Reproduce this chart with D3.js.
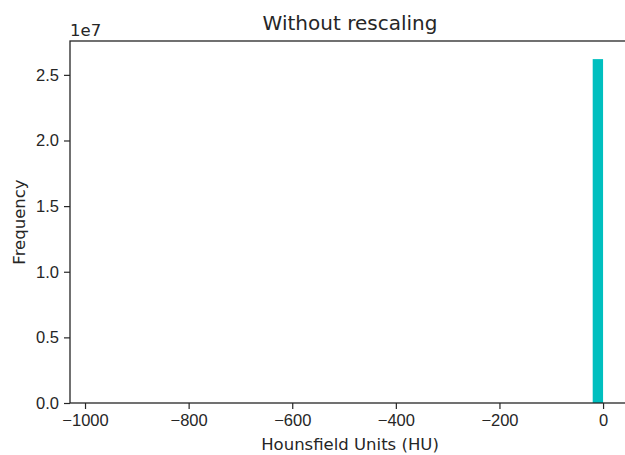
<!DOCTYPE html>
<html>
<head>
<meta charset="utf-8">
<script src="https://cdn.jsdelivr.net/npm/d3@7"></script>
<style>
  body { margin: 0; background: #fff; }
  svg { display: block; font-family: "DejaVu Sans", sans-serif; }
</style>
</head>
<body>
<svg width="625" height="455"></svg>
<script>
// histogram bins (HU) and counts
var binStart = [-20];
var binEnd = [0];
var counts = [26200000];
var xTicks = [-1000, -800, -600, -400, -200, 0];
var yTicks = [0, 0.5e7, 1e7, 1.5e7, 2e7, 2.5e7];

var margin = { top: 41, right: -5, bottom: 52, left: 70 };
var svgWidth = 625, svgHeight = 455;
var width = svgWidth - margin.left - margin.right;
var height = svgHeight - margin.top - margin.bottom;
var ink = "#262626";
var fs = "16.5px";

var svg = d3.select("svg");
var g = svg.append("g")
  .attr("transform", "translate(" + margin.left + "," + margin.top + ")");

var x = d3.scaleLinear().domain([-1029, 52]).range([0, width]);
var y = d3.scaleLinear().domain([0, 2.758e7]).range([height, 0]);

// bars
g.selectAll("rect.bar")
  .data(counts)
  .enter().append("rect")
  .attr("class", "bar")
  .attr("x", function(d, i) { return x(binStart[i]); })
  .attr("width", function(d, i) { return x(binEnd[i]) - x(binStart[i]); })
  .attr("y", function(d) { return y(d); })
  .attr("height", function(d) { return height - y(d); })
  .attr("fill", "#00bfbf");

// axes
var xAxis = g.append("g")
  .attr("transform", "translate(0," + height + ")")
  .call(d3.axisBottom(x).tickValues(xTicks).tickSize(6).tickPadding(5)
    .tickFormat(function(d) { return d < 0 ? "\u2212" + Math.abs(d) : d; }));

var yAxis = g.append("g")
  .call(d3.axisLeft(y).tickValues(yTicks).tickSize(6).tickPadding(5)
    .tickFormat(function(d) { return (d / 1e7).toFixed(1); }));

[xAxis, yAxis].forEach(function(a) {
  a.select(".domain").remove();
  a.selectAll("line").attr("stroke", ink).attr("stroke-width", 1.2);
  a.selectAll("text").attr("fill", ink).style("font-size", fs);
});

// spines
g.append("rect")
  .attr("x", 0).attr("y", 0)
  .attr("width", width).attr("height", height)
  .attr("fill", "none")
  .attr("stroke", ink)
  .attr("stroke-width", 1.3);

// offset text
g.append("text")
  .attr("x", 0).attr("y", -5)
  .attr("fill", ink)
  .style("font-size", fs)
  .text("1e7");

// title
g.append("text")
  .attr("x", width / 2).attr("y", -11)
  .attr("text-anchor", "middle")
  .attr("fill", ink)
  .style("font-size", "20px")
  .text("Without rescaling");

// x label
g.append("text")
  .attr("x", width / 2).attr("y", height + 47)
  .attr("text-anchor", "middle")
  .attr("fill", ink)
  .style("font-size", fs)
  .text("Hounsfield Units (HU)");

// y label
g.append("text")
  .attr("transform", "translate(-45," + (height / 2) + ") rotate(-90)")
  .attr("text-anchor", "middle")
  .attr("fill", ink)
  .style("font-size", fs)
  .text("Frequency");
</script>
</body>
</html>
